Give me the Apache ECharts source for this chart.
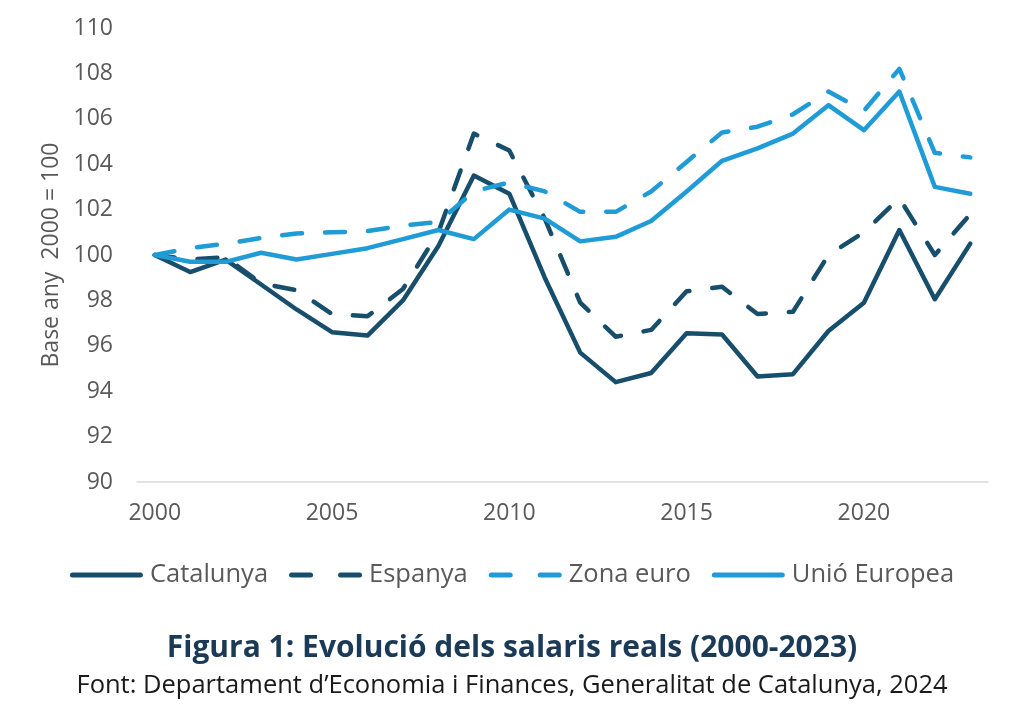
<!DOCTYPE html>
<html>
<head>
<meta charset="utf-8">
<script src="https://cdn.jsdelivr.net/npm/echarts@6/dist/echarts.min.js"></script>
<style>
html,body{margin:0;padding:0;background:#fff;}
#chart{width:1024px;height:717px;}
</style>
</head>
<body>
<div id="chart"></div>
<script>
const years = ['2000','2001','2002','2003','2004','2005','2006','2007','2008','2009','2010','2011','2012','2013','2014','2015','2016','2017','2018','2019','2020','2021','2022','2023'];
const catalunya = [100, 99.25, 99.8, 98.7, 97.6, 96.6, 96.45, 98.0, 100.4, 103.5, 102.7, 99.0, 95.7, 94.4, 94.8, 96.55, 96.5, 94.65, 94.75, 96.65, 97.9, 101.1, 98.05, 100.5];
const espanya = [100, 99.8, 99.9, 98.75, 98.45, 97.4, 97.3, 98.5, 101.0, 105.35, 104.6, 101.6, 97.9, 96.4, 96.7, 98.4, 98.6, 97.4, 97.5, 100.0, 101.0, 102.5, 100.0, 101.8];
const zonaEuro = [100, 100.3, 100.5, 100.75, 100.95, 101.0, 101.05, 101.3, 101.45, 102.8, 103.2, 102.8, 101.9, 101.9, 102.8, 104.1, 105.4, 105.65, 106.2, 107.2, 106.35, 108.2, 104.5, 104.3];
const unioEuropea = [100, 99.7, 99.7, 100.1, 99.8, 100.05, 100.3, 100.7, 101.1, 100.7, 102.0, 101.6, 100.6, 100.8, 101.5, 102.8, 104.15, 104.7, 105.35, 106.6, 105.5, 107.2, 103.0, 102.7];
const seriesNames = ['Catalunya', 'Espanya', 'Zona euro', 'Unió Europea'];

const DARK = '#174e6c';
const LIGHT = '#1f9bd6';
const FONT = '"Open Sans"';
const dash = [20, 23];
const SOLID_ICON = 'path://M2.5,0 L70.5,0 A2.5,2.5 0 0 1 70.5,5 L2.5,5 A2.5,2.5 0 0 1 2.5,0 Z';
const DASH_ICON = 'path://M2.5,0 L21.5,0 A2.5,2.5 0 0 1 21.5,5 L2.5,5 A2.5,2.5 0 0 1 2.5,0 Z M51.5,0 L70.5,0 A2.5,2.5 0 0 1 70.5,5 L51.5,5 A2.5,2.5 0 0 1 51.5,0 Z';

const chart = echarts.init(document.getElementById('chart'));
function mk(name, data, color, dashed) {
  return {
    name: name, type: 'line', data: data, symbol: 'none', smooth: false,
    lineStyle: { color: color, width: 4.5, type: dashed ? dash : 'solid', cap: 'round', join: 'round' },
    itemStyle: { color: color },
    emphasis: { disabled: true }, animation: false
  };
}
chart.setOption({
  animation: false,
  textStyle: { fontFamily: FONT },
  title: [
    { text: 'Figura 1: Evolució dels salaris reals (2000-2023)', left: 'center', top: 628,
      textStyle: { fontFamily: FONT, fontSize: 30, fontWeight: 'bold', color: '#1b3a57' } },
    { text: 'Font: Departament d\u2019Economia i Finances, Generalitat de Catalunya, 2024', left: 'center', top: 668,
      textStyle: { fontFamily: FONT, fontSize: 25.5, fontWeight: 'normal', color: '#1a1a1a' } }
  ],
  legend: {
    left: 'center', top: 557, itemWidth: 73, itemHeight: 5, itemGap: 21,
    textStyle: { fontFamily: FONT, fontSize: 25.5, color: '#595959', padding: [0, 0, 0, 2] },
    data: [
      { name: seriesNames[0], icon: SOLID_ICON },
      { name: seriesNames[1], icon: DASH_ICON },
      { name: seriesNames[2], icon: DASH_ICON },
      { name: seriesNames[3], icon: SOLID_ICON }
    ]
  },
  grid: { left: 137, right: 36, top: 28, bottom: 235, containLabel: false },
  xAxis: {
    type: 'category', data: years, boundaryGap: true,
    axisLine: { lineStyle: { color: '#d9d9d9', width: 1.5 } },
    axisTick: { show: false },
    axisLabel: { interval: 4, margin: 20, fontSize: 23, color: '#595959', fontFamily: FONT }
  },
  yAxis: {
    type: 'value', min: 90, max: 110, interval: 2,
    name: 'Base any  2000 = 100', nameLocation: 'middle', nameGap: 74, nameRotate: 90,
    nameTextStyle: { fontSize: 23, color: '#595959', fontFamily: FONT },
    axisLine: { show: false }, axisTick: { show: false }, splitLine: { show: false },
    axisLabel: { margin: 24, fontSize: 23, color: '#595959', fontFamily: FONT }
  },
  series: [
    mk(seriesNames[0], catalunya, DARK, false),
    mk(seriesNames[1], espanya, DARK, true),
    mk(seriesNames[2], zonaEuro, LIGHT, true),
    mk(seriesNames[3], unioEuropea, LIGHT, false)
  ]
});
</script>
</body>
</html>
